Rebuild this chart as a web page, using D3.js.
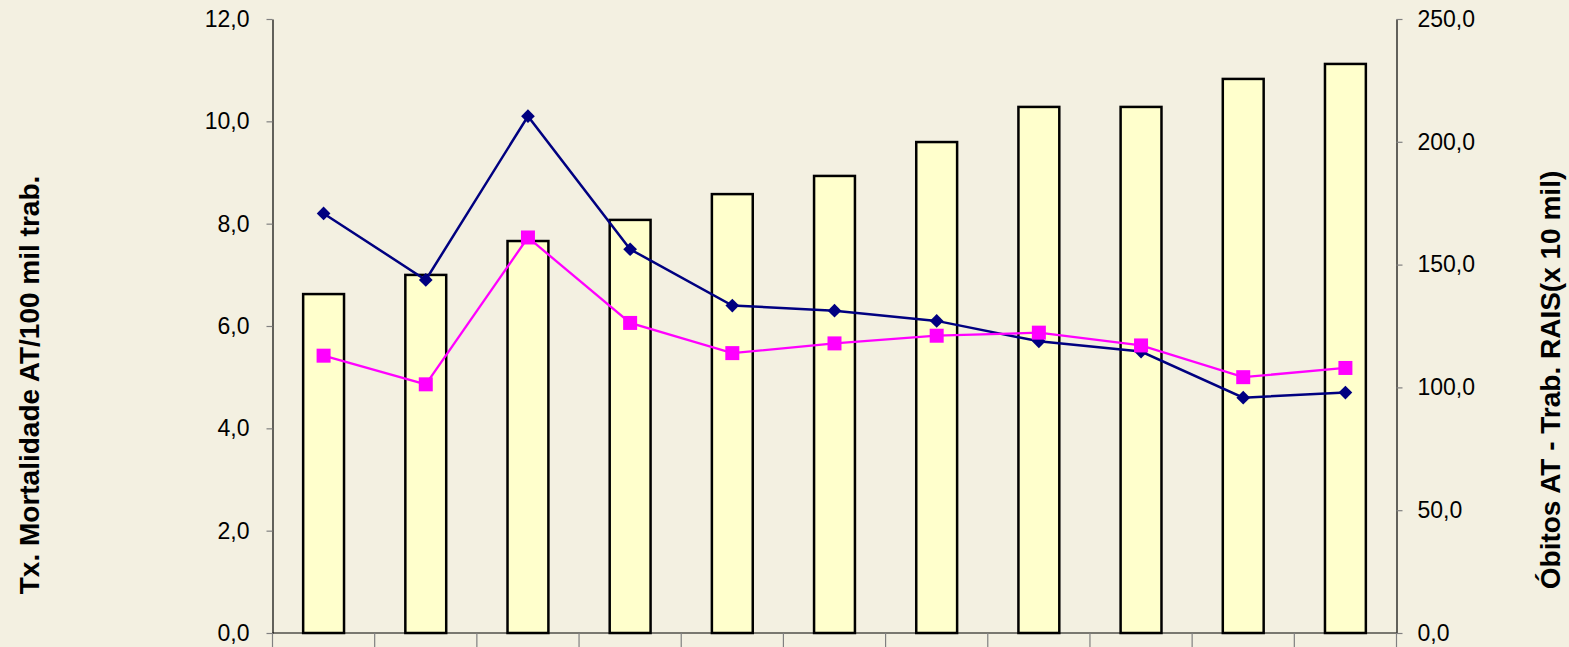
<!DOCTYPE html>
<html>
<head>
<meta charset="utf-8">
<script src="https://cdn.jsdelivr.net/npm/d3@7"></script>
<style>
  html, body { margin: 0; padding: 0; background: #F3F0E1; }
  svg { display: block; }
  text { font-family: "Liberation Sans", Arial, sans-serif; fill: #000; }
</style>
</head>
<body>
<svg id="chart" width="1569" height="647"></svg>
<script>
// ---- data ----
const categories = ["1996","1997","1998","1999","2000","2001","2002","2003","2004","2005","2006"];
const trabRais   = [138.0, 145.8, 159.6, 168.2, 178.7, 186.1, 199.9, 214.2, 214.2, 225.6, 231.7];
const obitosAT   = [8.2, 6.9, 10.1, 7.5, 6.4, 6.3, 6.1, 5.7, 5.5, 4.6, 4.7];
const txMortal   = [5.42, 4.86, 7.73, 6.06, 5.47, 5.66, 5.81, 5.87, 5.62, 5.0, 5.18];
const leftTicks  = [0, 2, 4, 6, 8, 10, 12];
const rightTicks = [0, 50, 100, 150, 200, 250];
const leftTitle  = "Tx. Mortalidade AT/100 mil trab.";
const rightTitle = "Óbitos AT - Trab. RAIS(x 10 mil)";

// ---- layout ----
const svg = d3.select("#chart");
const pLeft = 272.5, pRight = 1396.5, pTop = 19, pBottom = 633;

const x = d3.scaleBand().domain(categories).range([pLeft, pRight]).paddingInner(0).paddingOuter(0);
const yL = d3.scaleLinear().domain([0, 12]).range([pBottom, pTop]);
const yR = d3.scaleLinear().domain([0, 250]).range([pBottom, pTop]);
const fmt = d => d3.format(".1f")(d).replace(".", ",");

// bars
const bw = x.bandwidth() * 0.4;
svg.append("g").selectAll("rect").data(categories).join("rect")
  .attr("x", (d) => x(d) + (x.bandwidth() - bw) / 2)
  .attr("y", (d, i) => yR(trabRais[i]))
  .attr("width", bw)
  .attr("height", (d, i) => pBottom - yR(trabRais[i]))
  .attr("fill", "#FFFFCC")
  .attr("stroke", "#000")
  .attr("stroke-width", 2.5);

// axes
const axL = svg.append("g").attr("transform", `translate(${pLeft},0)`)
  .call(d3.axisLeft(yL).tickValues(leftTicks).tickFormat(fmt).tickSize(6).tickSizeOuter(0).tickPadding(17));
const axR = svg.append("g").attr("transform", `translate(${pRight},0)`)
  .call(d3.axisRight(yR).tickValues(rightTicks).tickFormat(fmt).tickSize(6).tickSizeOuter(0).tickPadding(15));
[axL, axR].forEach(a => {
  a.select(".domain").attr("stroke", "#000").attr("stroke-width", 1.2);
  a.selectAll(".tick line").attr("stroke", "#808080").attr("stroke-width", 1.2);
  a.selectAll(".tick text").attr("font-size", 23).attr("font-family", '"Liberation Sans", Arial, sans-serif').attr("fill", "#000");
});

// x axis: baseline with ticks at category boundaries
const xg = svg.append("g");
xg.append("line").attr("x1", pLeft).attr("x2", pRight).attr("y1", pBottom).attr("y2", pBottom)
  .attr("stroke", "#000").attr("stroke-width", 1.2);
const bounds = categories.map(c => x(c)).concat([x(categories[categories.length - 1]) + x.bandwidth()]);
xg.selectAll("line.b").data(bounds).join("line").attr("class", "b")
  .attr("x1", d => d).attr("x2", d => d).attr("y1", pBottom).attr("y2", pBottom + 16)
  .attr("stroke", "#808080").attr("stroke-width", 1.2);

// lines
const cx = d => x(d) + x.bandwidth() / 2;
function drawSeries(vals, color, sym, size, lw) {
  const pts = categories.map((c, i) => [cx(c), yL(vals[i])]);
  svg.append("path").attr("d", d3.line()(pts)).attr("fill", "none")
    .attr("stroke", color).attr("stroke-width", lw);
  svg.append("g").selectAll("path").data(pts).join("path")
    .attr("transform", p => `translate(${p[0]},${p[1]})`)
    .attr("d", d3.symbol().type(sym).size(size))
    .attr("fill", color);
}
drawSeries(obitosAT, "#000080", d3.symbolDiamond2, 120, 2.5);
drawSeries(txMortal, "#FF00FF", d3.symbolSquare, 196, 2.3);

// titles
svg.append("text").attr("transform", "translate(29,385) rotate(-90)")
  .attr("text-anchor", "middle").attr("dominant-baseline", "central")
  .attr("font-size", 28).attr("font-weight", "bold").text(leftTitle);
svg.append("text").attr("transform", "translate(1550,380) rotate(-90)")
  .attr("text-anchor", "middle").attr("dominant-baseline", "central")
  .attr("font-size", 28).attr("font-weight", "bold").text(rightTitle);
</script>
</body>
</html>
